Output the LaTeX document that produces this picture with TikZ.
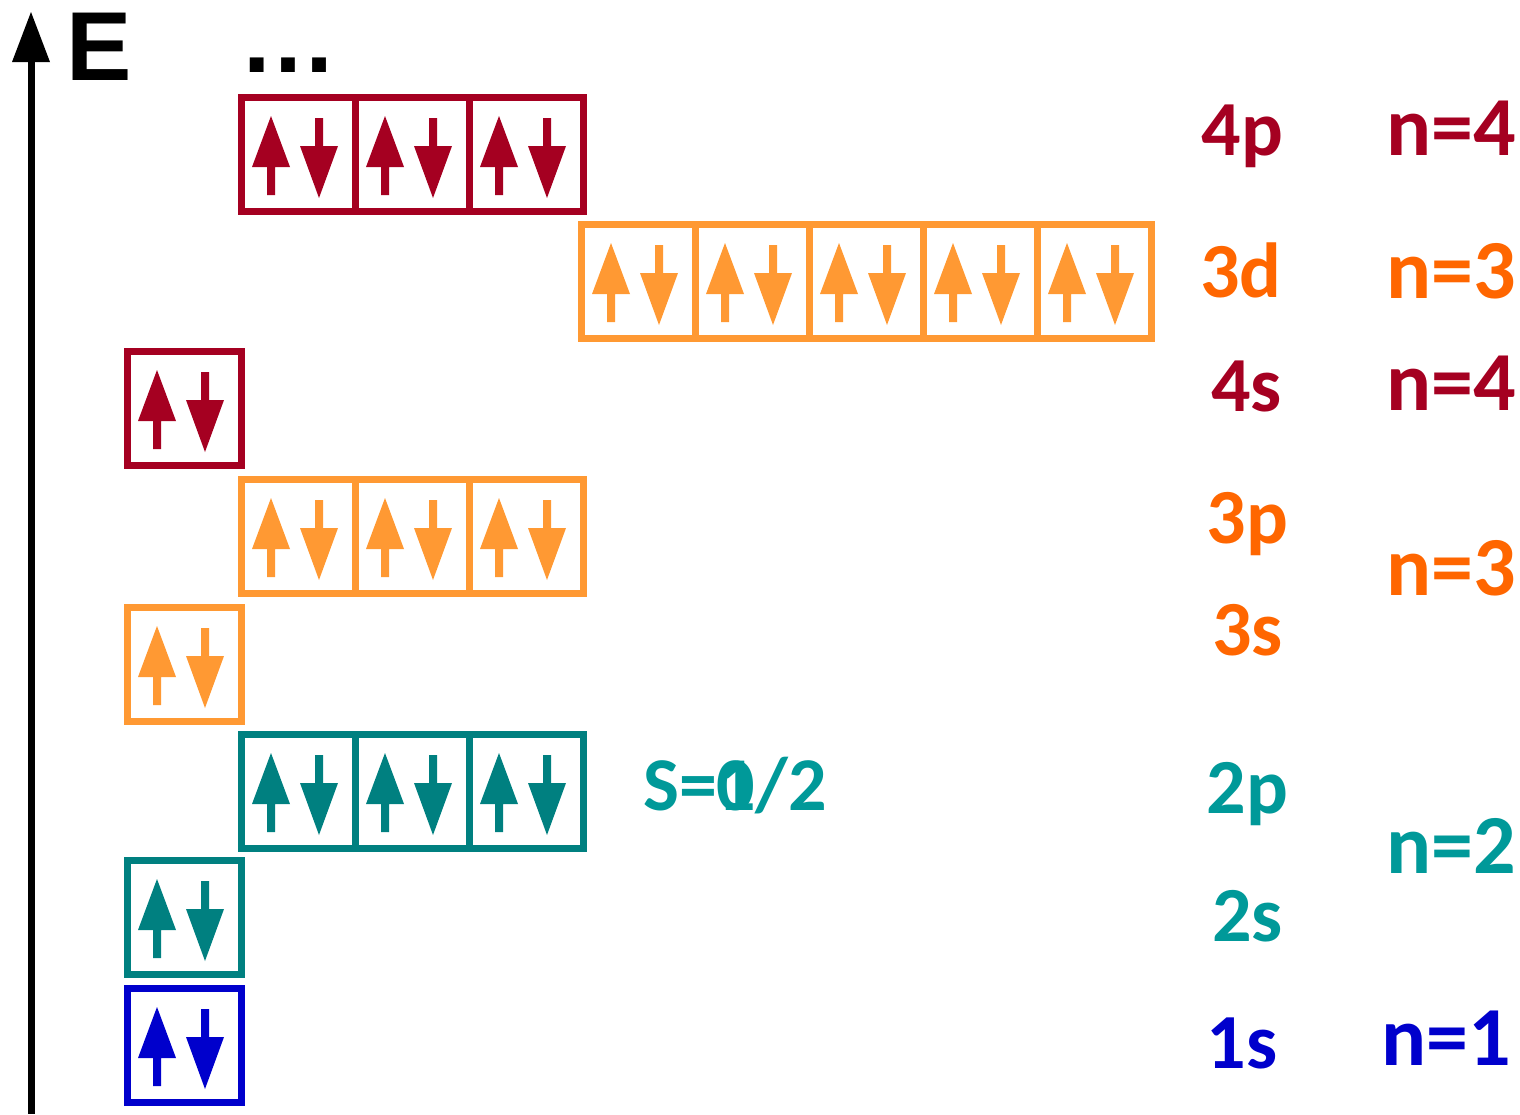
\documentclass[tikz,border=0pt]{standalone}
\usepackage{fontspec}
\setmainfont{Carlito}
\newfontfamily\arialf{Liberation Sans}
\definecolor{dred}{HTML}{A50021}
\definecolor{obox}{HTML}{FF9933}
\definecolor{otxt}{HTML}{FF6600}
\definecolor{tbox}{HTML}{008080}
\definecolor{ttxt}{HTML}{009999}
\definecolor{bl}{HTML}{0000CC}
\tikzset{
  cellbox/.style={draw=#1, line width=7pt, minimum width=114pt, minimum height=114pt, inner sep=0pt, outer sep=0pt, anchor=north west},
  lbl/.style={text=#1, font=\fontsize{78}{78}\selectfont\bfseries, anchor=base, inner sep=0pt},
  nlbl/.style={text=#1, font=\fontsize{84}{84}\selectfont\bfseries, anchor=base west, inner sep=0pt},
}
\newcommand\spinpair[2]{%
  \begin{scope}[shift={(#1.north west)}]
    \fill[#2] (30,19) -- (49,70) -- (34,70) -- (34,98) -- (26,98) -- (26,70) -- (11,70) -- cycle;
    \fill[#2] (74,21) -- (82,21) -- (82,49) -- (97,49) -- (78,101) -- (59,49) -- (74,49) -- cycle;
  \end{scope}}
\newcommand\cellrow[5]{% prefix, count, x, y, color
  \foreach \k in {1,...,#2}{
    \node[cellbox=#5] (#1\k) at ({#3+(\k-1)*114},#4) {};
    \spinpair{#1\k}{#5}
  }}
\begin{document}
\begin{tikzpicture}[x=1pt,y=-1pt]
\useasboundingbox (0,0) rectangle (1520,1114);
% energy axis
\fill[black] (27.5,1114) rectangle (34.5,60);
\fill[black] (31,12) -- (50,62) -- (12,62) -- cycle;
\node[font=\arialf\bfseries\fontsize{98}{98}\selectfont, anchor=base west, inner sep=0pt] (E) at (66,80) {E};
\node[font=\arialf\bfseries\fontsize{98}{98}\selectfont, anchor=base, inner sep=0pt, text height=16pt, text depth=0pt] (dots) at (288,72) {…};
% orbitals
\cellrow{pf}{3}{241}{97}{dred}
\cellrow{dt}{5}{581}{224}{obox}
\cellrow{sf}{1}{127}{351}{dred}
\cellrow{pt}{3}{241}{479}{obox}
\cellrow{st}{1}{127}{607}{obox}
\cellrow{pw}{3}{241}{734}{tbox}
\cellrow{sw}{1}{127}{860}{tbox}
\cellrow{so}{1}{127}{988}{bl}
% labels
\node[lbl=dred] (l4p) at (1242.5,155) {4p};
\node[lbl=otxt] (l3d) at (1241,297) {3d};
\node[lbl=dred] (l4s) at (1246.5,411) {4s};
\node[lbl=otxt] (l3p) at (1247.5,543) {3p};
\node[lbl=otxt] (l3s) at (1247.5,655) {3s};
\node[lbl=ttxt] (l2p) at (1247.5,813) {2p};
\node[lbl=ttxt] (l2s) at (1247.5,941) {2s};
\node[lbl=bl] (l1s) at (1242,1068) {1s};
\node[nlbl=dred] (n4a) at (1386,155) {n=4};
\node[nlbl=otxt] (n3a) at (1386,298) {n=3};
\node[nlbl=dred] (n4b) at (1386,410) {n=4};
\node[nlbl=otxt] (n3b) at (1386,595) {n=3};
\node[nlbl=ttxt] (n2) at (1386,873) {n=2};
\node[nlbl=bl] (n1) at (1381,1065) {n=1};
% spin label
\node[nlbl=ttxt, font=\fontsize{76}{76}\selectfont\bfseries] (S) at (643,810) {S=1/2};
\node[text=ttxt, font=\fontsize{76}{76}\selectfont\bfseries, anchor=base west, inner sep=0pt] (S0) at (S.base west) {\phantom{S=}0};
\end{tikzpicture}
\end{document}
